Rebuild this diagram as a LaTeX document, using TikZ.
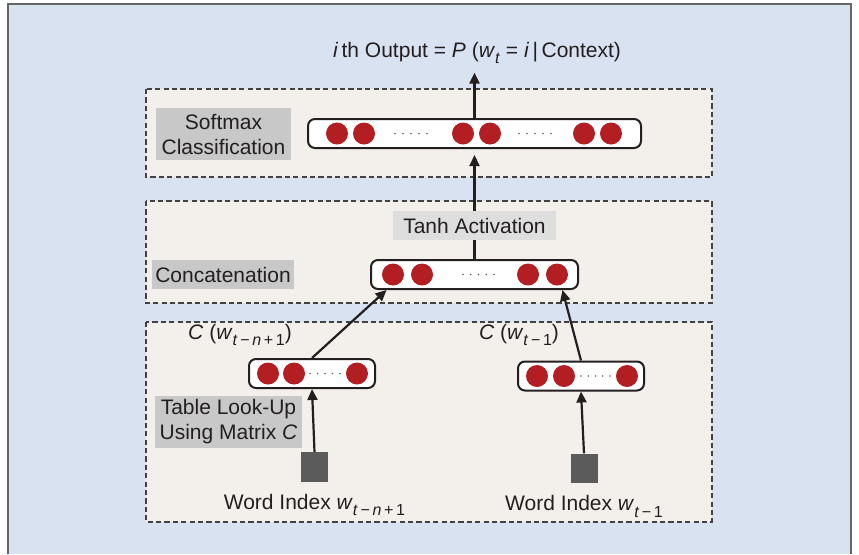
\documentclass[tikz,border=0pt]{standalone}
\usepackage{fontspec}
\setmainfont{Liberation Sans}
\usetikzlibrary{positioning, arrows.meta}

\definecolor{bgblue}{HTML}{D9E2F1}
\definecolor{panel}{HTML}{F3F0EB}
\definecolor{tagbox}{HTML}{C8C8C9}
\definecolor{tagboxlight}{HTML}{DEDEDE}
\definecolor{unitred}{HTML}{B31E23}
\definecolor{idxgray}{HTML}{5B5B5B}
\definecolor{ink}{HTML}{231F20}

\newcommand{\lowidx}[1]{\raisebox{-0.55ex}{\fontsize{8pt}{9pt}\selectfont #1}}

\begin{document}
\begin{tikzpicture}[
	x=0.5pt, y=-0.5pt,
	font=\fontsize{10.5pt}{12.5pt}\selectfont,
	text=ink,
	layer/.style={draw=ink!85, fill=panel, line width=0.6pt, dash pattern=on 2.6pt off 1.6pt},
	tag/.style={fill=tagbox, align=center, inner sep=1.5pt},
	vec/.style={draw=ink, fill=white, rounded corners=3.5pt, line width=1pt, minimum height=14.5pt, inner sep=0pt},
	idx/.style={fill=idxgray, minimum width=13.5pt, minimum height=14.8pt, inner sep=0pt},
	arrow/.style={-{Triangle[length=5.5pt, width=5pt]}, line width=1.1pt, draw=ink},
	link/.style={line width=1.1pt, draw=ink}
	]
	
	% Frame
	\useasboundingbox (0,0) rectangle (859,554);
	\fill[white] (0,0) rectangle (859,554);
	\fill[bgblue] (8,4) rectangle (851,554);
	\draw[line width=1.1pt, draw=black!60] (8,554) -- (8,4) -- (851,4) -- (851,554);
	
	% Layers
	\draw[layer] (146,89) rectangle (712,177);
	\draw[layer] (146,201) rectangle (712,303);
	\draw[layer] (146,322) rectangle (712,522);
	
	% Labels
	\node[tag, minimum width=67.5pt, minimum height=26pt] (softmax) at (223.5,134) {Softmax\\Classification};
	\node[tag, fill=tagboxlight, minimum width=81.5pt, minimum height=14.5pt] (tanh) at (474.5,225.5) {Tanh Activation};
	\node[tag, minimum width=71pt, minimum height=14.5pt] (concat) at (223,274.5) {Concatenation};
	\node[tag, minimum width=73.5pt, minimum height=26pt] (lookup) at (228.5,422) {Table Look-Up\\Using Matrix \textit{C}};
	
	% Vectors
	\node[vec, minimum width=166.5pt] (softvec) at (474.5,133.5) {};
	\node[vec, minimum width=103.5pt] (catvec) at (474.5,274.5) {};
	\node[vec, minimum width=63pt] (leftvec) at (312,373.5) {};
	\node[vec, minimum width=63pt] (rightvec) at (581,376) {};
	
	\foreach \x in {337,364,463,490,584,611}
		\fill[unitred] (\x,133.5) circle[radius=5.5pt];
	\foreach \x in {393,422,528,557}
		\fill[unitred] (\x,274.5) circle[radius=5.5pt];
	\foreach \x in {268,294,357}
		\fill[unitred] (\x,373.5) circle[radius=5.5pt];
	\foreach \x in {537,564,627}
		\fill[unitred] (\x,376) circle[radius=5.5pt];
	\foreach \i in {0,...,4} {
		\fill[ink!70] (395+8*\i,133.5) circle[radius=0.45pt];
		\fill[ink!70] (519+8*\i,133.5) circle[radius=0.45pt];
		\fill[ink!70] (463+7.75*\i,274.5) circle[radius=0.45pt];
		\fill[ink!70] (310+7.5*\i,373.5) circle[radius=0.45pt];
		\fill[ink!70] (581+7.25*\i,376) circle[radius=0.45pt];
	}
	
	% Word indices
	\node[idx] (lsq) at (314.5,467) {};
	\node[idx] (rsq) at (584,468.5) {};
	\node[below=2.5pt of lsq] (leftword) {Word Index \textit{w}\lowidx{\textit{t}\,−\,\textit{n}\,+\,1}};
	\node[below=2.5pt of rsq] (rightword) {Word Index \textit{w}\lowidx{\textit{t}\,−\,1}};
	
	% Embeddings
	\node (leftemb) at (240,335) {\textit{C} (\textit{w}\lowidx{\textit{t}\,−\,\textit{n}\,+\,1})};
	\node (rightemb) at (519,335) {\textit{C} (\textit{w}\lowidx{\textit{t}\,−\,1})};
	
	% Output
	\node[inner sep=0pt, anchor=base] (output) at (477,57) {\textit{i}\,th Output = \textit{P} (\textit{w}\lowidx{\textit{t}} = \textit{i}\,|\,Context)};
	
	% Arrows
	\draw[arrow, shorten >=4.5pt] (softvec.north) -- (softvec.north |- output.south);
	\draw[arrow, shorten >=3pt] (tanh.north) -- (softvec.south);
	\draw[link] (tanh.south) -- (catvec.north);
	\draw[arrow] (leftvec.north) -- (catvec.190);
	\draw[arrow] (rightvec.north) -- (catvec.350);
	\draw[arrow] (lsq.north) -- (leftvec.south);
	\draw[arrow] (rsq.north) -- (rightvec.south);
	
\end{tikzpicture}
\end{document}
